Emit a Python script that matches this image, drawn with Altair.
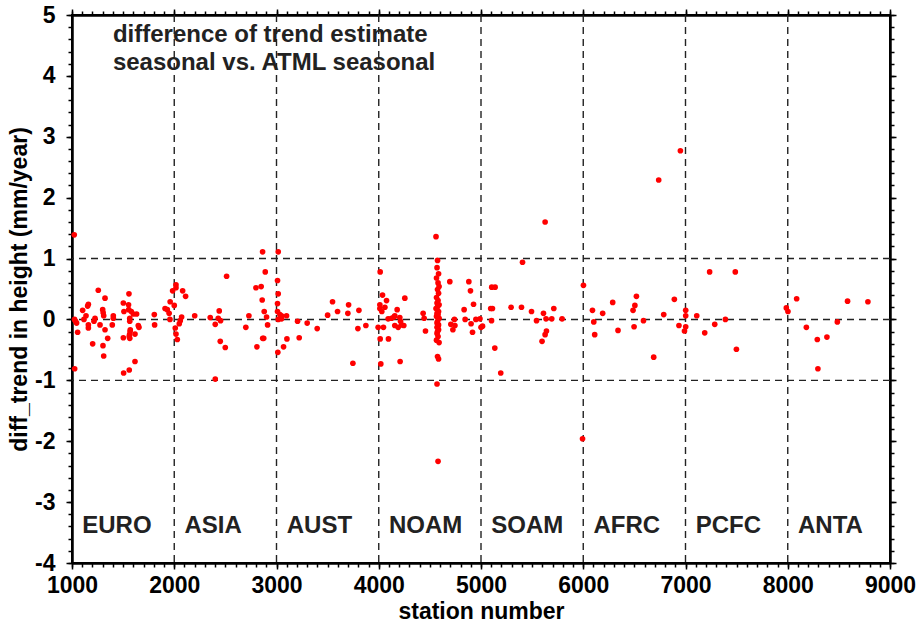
import altair as alt
import pandas as pd

# Station numbers and trend differences (mm/year), grouped by region
station = [
    # EURO
    1022, 1026, 1025, 1035, 1045, 1055, 1104, 1117, 1137, 1153, 1160, 1160, 1160,
    1202, 1215, 1225, 1257, 1274, 1300, 1305, 1310, 1323, 1303, 1310, 1323, 1349,
    1394, 1404, 1404, 1502, 1508, 1502, 1505, 1553, 1557, 1555, 1560, 1565, 1565,
    1568, 1563, 1560, 1565, 1570, 1580, 1600, 1616, 1616, 1632, 1648, 1655, 1805,
    1808, 1910, 1932, 1950, 1960, 1958, 1984, 2000, 2017, 2017, 2082, 2111, 2072,
    2059, 2049, 2010, 2017, 2030,
    # ASIA
    2200, 2352, 2440, 2430, 2453, 2401, 2450, 2499, 2512, 2401, 2730, 2700, 2808,
    2799, 2850, 2864, 2890, 2860, 2880, 2903, 2913, 2865, 2875,
    # AUST
    3017, 3010, 3017, 3010, 3010, 3033, 3049, 3098, 3017, 3049, 3013, 3069, 3102,
    3206, 3222, 3300, 3398, 3500, 3548, 3597, 3698, 3705, 3806, 3796, 3874, 3747,
    # NOAM
    4014, 4037, 4076, 4011, 4060, 4030, 4011, 4092, 4125, 4148, 4157, 4180, 4206,
    4213, 4223, 4190, 4157, 4245, 3994, 4046, 4014, 4095, 4020, 4209, 4255, 4434,
    4444, 4457,
    4560, 4575, 4570, 4585, 4565, 4580, 4590, 4575, 4585, 4565, 4580, 4570, 4590,
    4575, 4560, 4585, 4570, 4580, 4565, 4590, 4575, 4570, 4585, 4580, 4570, 4585,
    4575, 4570, 4580, 4565, 4590, 4575, 4585, 4570, 4580,
    4695, 4705, 4725, 4745, 4740, 4835, 4845, 4881, 4897, 4927, 4903, 4917, 4950,
    4990, 5015, 5000,
    # SOAM
    5105, 5138, 5095, 5112, 5103, 5135, 5193, 5294, 5396, 5406, 5494, 5543, 5611,
    5627, 5712, 5636, 5692, 5793, 5640, 5627, 5597, 5993,
    # AFRC
    6002, 6090, 6103, 6190, 6112, 6288, 6340, 6487, 6505, 6520, 6497, 6589, 6689,
    6738, 6787, 6891, 6950, 6936, 7002, 6990, 7002, 7002,
    # PCFC
    7110, 7188, 7236, 7286, 7390, 7487, 7498,
    # ANTA
    7986, 8002, 8087, 8182, 8289, 8383, 8295, 8485, 8585, 8784,
]

diff = [
    # EURO
    1.39, -0.81, 0.00, -0.03, -0.06, -0.21, 0.15, 0.00, 0.06, 0.22, 0.25, -0.09, -0.14,
    -0.40, -0.03, 0.02, 0.48, -0.09, 0.16, 0.11, 0.06, 0.35, -0.43, -0.60, -0.17, -0.31,
    -0.09, 0.06, 0.02, 0.27, 0.13, -0.30, -0.88, 0.24, 0.42, 0.16, -0.83, 0.02, -0.03,
    -0.20, -0.25, -0.28, -0.31, -0.17, 0.13, 0.09, -0.24, -0.69, 0.09, -0.10, -0.13, 0.08,
    -0.09, 0.18, 0.16, 0.10, 0.29, 0.00, 0.47, 0.23, 0.57, 0.52, 0.47, 0.38, 0.04,
    -0.02, -0.07, -0.14, -0.24, -0.33,
    # ASIA
    0.06, 0.03, 0.14, 0.02, -0.02, -0.08, -0.36, -0.46, 0.71, -0.98, 0.06, -0.13, -0.45,
    0.52, 0.54, 1.11, 0.78, 0.32, 0.13, 0.04, -0.09, -0.31, -0.31,
    # AUST
    1.11, 0.64, 0.42, 0.26, 0.13, 0.08, 0.06, 0.06, 0.00, 0.01, -0.54, -0.45, -0.32,
    -0.03, -0.30, -0.06, -0.15, 0.07, 0.29, 0.13, 0.10, 0.24, 0.15, -0.15, -0.10, -0.72,
    # NOAM
    0.78, 0.40, 0.31, 0.24, 0.20, 0.13, 0.18, 0.01, 0.02, 0.04, 0.06, 0.16, 0.03,
    -0.03, -0.09, -0.13, -0.10, -0.10, -0.13, -0.13, -0.32, -0.32, -0.73, -0.69, 0.35, 0.10,
    0.02, -0.19,
    1.36, 0.97, 0.85, 0.75, 0.68, 0.60, 0.54, 0.49, 0.43, 0.36, 0.31, 0.27, 0.24,
    0.21, 0.18, 0.13, 0.10, 0.08, 0.05, 0.02, -0.03, -0.06, -0.09, -0.11, -0.13, -0.17,
    -0.20, -0.23, -0.28, -0.34, -0.38, -0.61, -0.65, -1.06, -2.33,
    0.62, -0.08, -0.17, -0.10, 0.00, 0.16, 0.00, 0.62, 0.47, 0.25, -0.07, -0.21, 0.00,
    0.01, -0.11, -0.13,
    # SOAM
    0.53, 0.53, 0.18, 0.18, -0.02, -0.47, -0.88, 0.20, 0.20, 0.94, 0.13, -0.02, 0.10,
    1.60, 0.18, 0.01, 0.01, 0.01, -0.19, -0.25, -0.36, -1.96,
    # AFRC
    0.56, 0.15, -0.04, 0.10, -0.25, 0.28, -0.18, 0.15, 0.23, 0.38, -0.12, -0.02, -0.62,
    2.29, 0.08, 0.33, 2.77, -0.10, -0.12, -0.19, 0.15, 0.06,
    # PCFC
    0.06, -0.22, 0.78, -0.08, 0.00, 0.78, -0.49,
    # ANTA
    0.19, 0.13, 0.34, -0.13, -0.33, -0.29, -0.81, -0.04, 0.30, 0.29,
]

region_names = ["EURO", "ASIA", "AUST", "NOAM", "SOAM", "AFRC", "PCFC", "ANTA"]
region_x = [1100, 2100, 3100, 4100, 5100, 6100, 7100, 8100]
region_y = [-3.5] * 8

# Two-line annotation in the upper left corner
note_text_lines = "difference of trend estimate\nseasonal vs. ATML seasonal"
note_x = [1400]
note_y = [4.55]

region_bounds = [2000, 3000, 4000, 5000, 6000, 7000, 8000]
level_lines = [-1, 0, 1]

x_major = list(range(1000, 9001, 1000))
x_minor = list(range(1000, 9001, 100))
y_major = list(range(-4, 6))
y_minor = [round(-4 + 0.2 * i, 1) for i in range(46)]

FONT = "Liberation Sans"

pts = pd.DataFrame({"station": station, "diff": diff})
regions = pd.DataFrame({"name": region_names, "x": region_x, "y": region_y})
notes = pd.DataFrame({"text": [note_text_lines], "x": note_x, "y": note_y})
vlines = pd.DataFrame({"x": region_bounds})
hlines = pd.DataFrame({"y": level_lines})

xs = alt.Scale(domain=[1000, 9000], nice=False, zero=False)
ys = alt.Scale(domain=[-4, 5], nice=False, zero=False)


def x_axis(orient, values, tick, labels, title=None):
    kw = dict(orient=orient, values=values, tickSize=tick, labels=labels,
              grid=False, title=title)
    if labels:
        kw.update(format="d", labelPadding=5, titlePadding=3, labelFlush=False,
                  labelOverlap=False)
    return alt.Axis(**kw)


def y_axis(orient, values, tick, labels, title=None):
    kw = dict(orient=orient, values=values, tickSize=tick, labels=labels,
              grid=False, title=title)
    if labels:
        kw.update(labelExpr="'' + datum.value", labelPadding=11, titlePadding=3,
                  labelFlush=False, labelOverlap=False)
    return alt.Axis(**kw)


dash = [7, 5]
vgrid = alt.Chart(vlines).mark_rule(color="#222222", strokeWidth=1.4, strokeDash=dash).encode(
    x=alt.X("x:Q", scale=xs, axis=None)
)
hgrid = alt.Chart(hlines).mark_rule(color="#222222", strokeWidth=1.4, strokeDash=dash).encode(
    y=alt.Y("y:Q", scale=ys, axis=None)
)

dots = alt.Chart(pts).mark_circle(color="#ff0000", size=32, opacity=1).encode(
    x=alt.X("station:Q", scale=xs,
            axis=x_axis("bottom", x_major, 6, True, "station number")),
    y=alt.Y("diff:Q", scale=ys,
            axis=y_axis("left", y_major, 6, True, "diff_trend in height (mm/year)")),
)


def tick_layer(xo, yo, xv, yv, size):
    return alt.Chart(pts).mark_circle(opacity=0).encode(
        x=alt.X("station:Q", scale=xs, axis=x_axis(xo, xv, size, False)),
        y=alt.Y("diff:Q", scale=ys, axis=y_axis(yo, yv, size, False)),
    )


minor_bl = tick_layer("bottom", "left", x_minor, y_minor, 4)
major_tr = tick_layer("top", "right", x_major, y_major, 6)
minor_tr = tick_layer("top", "right", x_minor, y_minor, 4)

region_text = alt.Chart(regions).mark_text(
    align="left", baseline="alphabetic", font=FONT, fontWeight="bold",
    fontSize=24, color="#222222"
).encode(
    x=alt.X("x:Q", scale=xs, axis=None),
    y=alt.Y("y:Q", scale=ys, axis=None),
    text="name:N",
)

note_text = alt.Chart(notes).mark_text(
    align="left", baseline="alphabetic", font=FONT, fontWeight="bold",
    fontSize=24, color="#222222", lineBreak="\n", lineHeight=28
).encode(
    x=alt.X("x:Q", scale=xs, axis=None),
    y=alt.Y("y:Q", scale=ys, axis=None),
    text="text:N",
)

chart = alt.layer(
    vgrid, hgrid, minor_bl, major_tr, minor_tr, dots, region_text, note_text
).resolve_axis(
    x="independent", y="independent"
).properties(
    width=818,
    height=548,
    autosize=alt.AutoSizeParams(type="none"),
    padding={"left": 72, "top": 15, "right": 29, "bottom": 61},
).configure_view(
    stroke="black", strokeWidth=2
).configure_axis(
    labelFont=FONT, labelFontWeight="bold", labelFontSize=23, labelColor="black",
    titleFont=FONT, titleFontWeight="bold", titleFontSize=23, titleColor="black",
    tickColor="black", tickWidth=1.5, domainColor="black", domainWidth=2,
)

chart.save("out.html", embed_options={"renderer": "svg", "actions": False})
